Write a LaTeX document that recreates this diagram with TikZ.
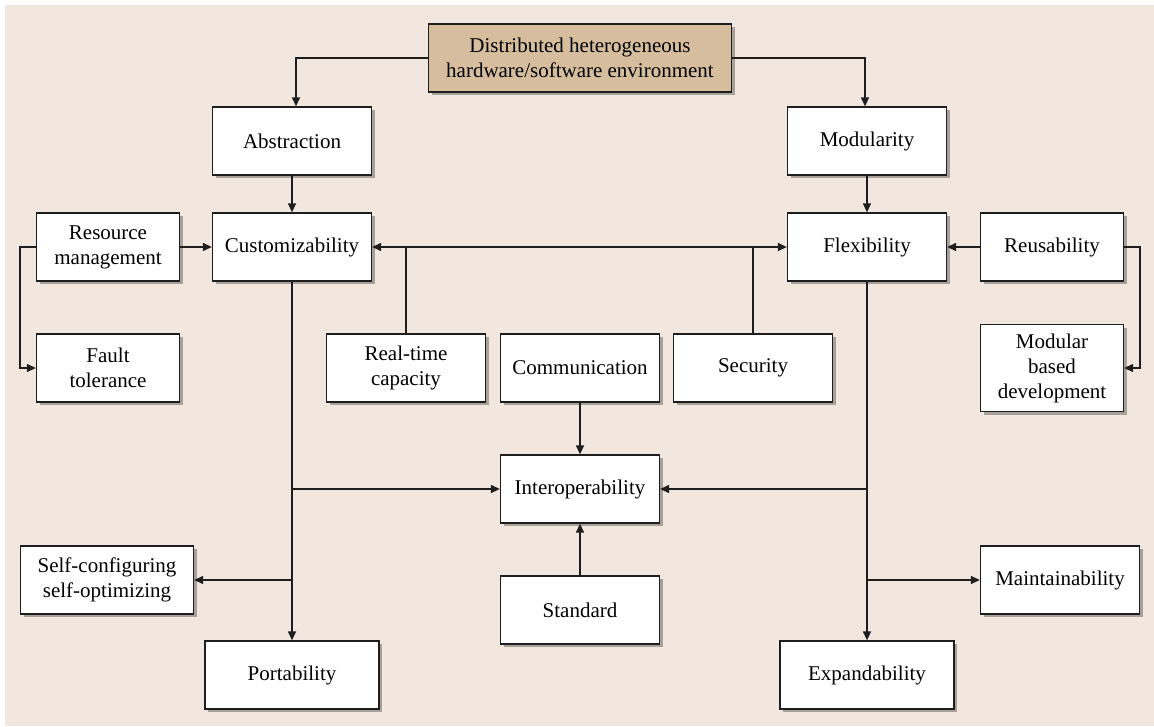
\documentclass[tikz,border=0pt]{standalone}
\usepackage{fontspec}
\setmainfont{Liberation Serif}
\usetikzlibrary{arrows.meta,shadows}
\definecolor{fondo}{RGB}{241,231,222}
\definecolor{tostado}{RGB}{214,189,158}
\definecolor{trazo}{RGB}{30,30,30}

\begin{document}
\begin{tikzpicture}[x=1pt,y=-1pt,
    caja/.style={draw=trazo,line width=1.3pt,fill=white,align=center,inner sep=0pt,
      minimum width=159pt,minimum height=68pt,
      font=\fontsize{21}{25}\selectfont,
      drop shadow={shadow xshift=3pt,shadow yshift=-3pt,fill=black,opacity=.3}},
    cajaraiz/.style={caja,fill=tostado,minimum width=303pt},
    flecha/.style={draw=trazo,line width=1.3pt,-{Triangle[length=9pt,width=8pt]}},
    linea/.style={draw=trazo,line width=1.3pt},
    doble/.style={draw=trazo,line width=1.3pt,{Triangle[length=9pt,width=8pt]}-{Triangle[length=9pt,width=8pt]}}]
    \useasboundingbox (0,0) rectangle (1154,726);
    \fill[white] (0,0) rectangle (1154,726);
    \fill[fondo] (5,5) rectangle (1154,726);

    \node[cajaraiz] (env) at (580,58) {Distributed heterogeneous\\hardware/software environment};

    \node[caja] (abstr) at (292,141) {Abstraction};
    \node[caja] (modul) at (867,141) {Modularity};

    \node[caja] (custom) at (292,247) {Customizability};
    \node[caja] (flex) at (867,247) {Flexibility};
    \node[caja,minimum width=143pt] (resmgmt) at (108,247) {Resource\\management};
    \node[caja,minimum width=143pt] (fault) at (108,368) {Fault\\tolerance};
    \node[caja,minimum width=143pt] (reuse) at (1052,247) {Reusability};
    \node[caja,minimum width=143pt,minimum height=87pt] (modbased) at (1052,368) {Modular\\based\\development};

    \node[caja] (realtime) at (406,368) {Real-time\\capacity};
    \node[caja] (comm) at (580,368) {Communication};
    \node[caja] (secur) at (753,368) {Security};

    \node[caja] (interop) at (580,489) {Interoperability};
    \node[caja] (standard) at (580,610) {Standard};

    \node[caja,minimum width=173pt] (selfconf) at (107,580) {Self-configuring\\self-optimizing};
    \node[caja] (maint) at (1060,580) {Maintainability};
    \node[caja,minimum width=174pt] (port) at (292,675) {Portability};
    \node[caja,minimum width=174pt] (expand) at (867,675) {Expandability};

    \coordinate (rmgiro) at (20,247);
    \coordinate (reugiro) at (1140,247);

    \draw[flecha] (env.west) -| ([xshift=4pt]abstr.north);
    \draw[flecha] (env.east) -| ([xshift=-2pt]modul.north);
    \draw[flecha] (abstr) -- (custom);
    \draw[flecha] (modul) -- (flex);
    \draw[flecha] (resmgmt) -- (custom);
    \draw[flecha] (resmgmt.west) -- (rmgiro) |- (fault.west);
    \draw[flecha] (reuse) -- (flex);
    \draw[flecha] (reuse.east) -- (reugiro) |- (modbased.east);
    \draw[doble] (custom) -- (flex);
    \draw[linea] (realtime.north) -- (realtime.north |- custom.east);
    \draw[linea] (secur.north) -- (secur.north |- flex.west);
    \draw[flecha] (comm) -- (interop);
    \draw[flecha] (standard) -- (interop);
    \draw[flecha] (custom) -- (port);
    \draw[flecha] (flex) -- (expand);
    \draw[flecha] (custom.south |- interop.west) -- (interop.west);
    \draw[flecha] (flex.south |- interop.east) -- (interop.east);
    \draw[flecha] (custom.south |- selfconf.east) -- (selfconf.east);
    \draw[flecha] (flex.south |- maint.west) -- (maint.west);
\end{tikzpicture}
\end{document}
